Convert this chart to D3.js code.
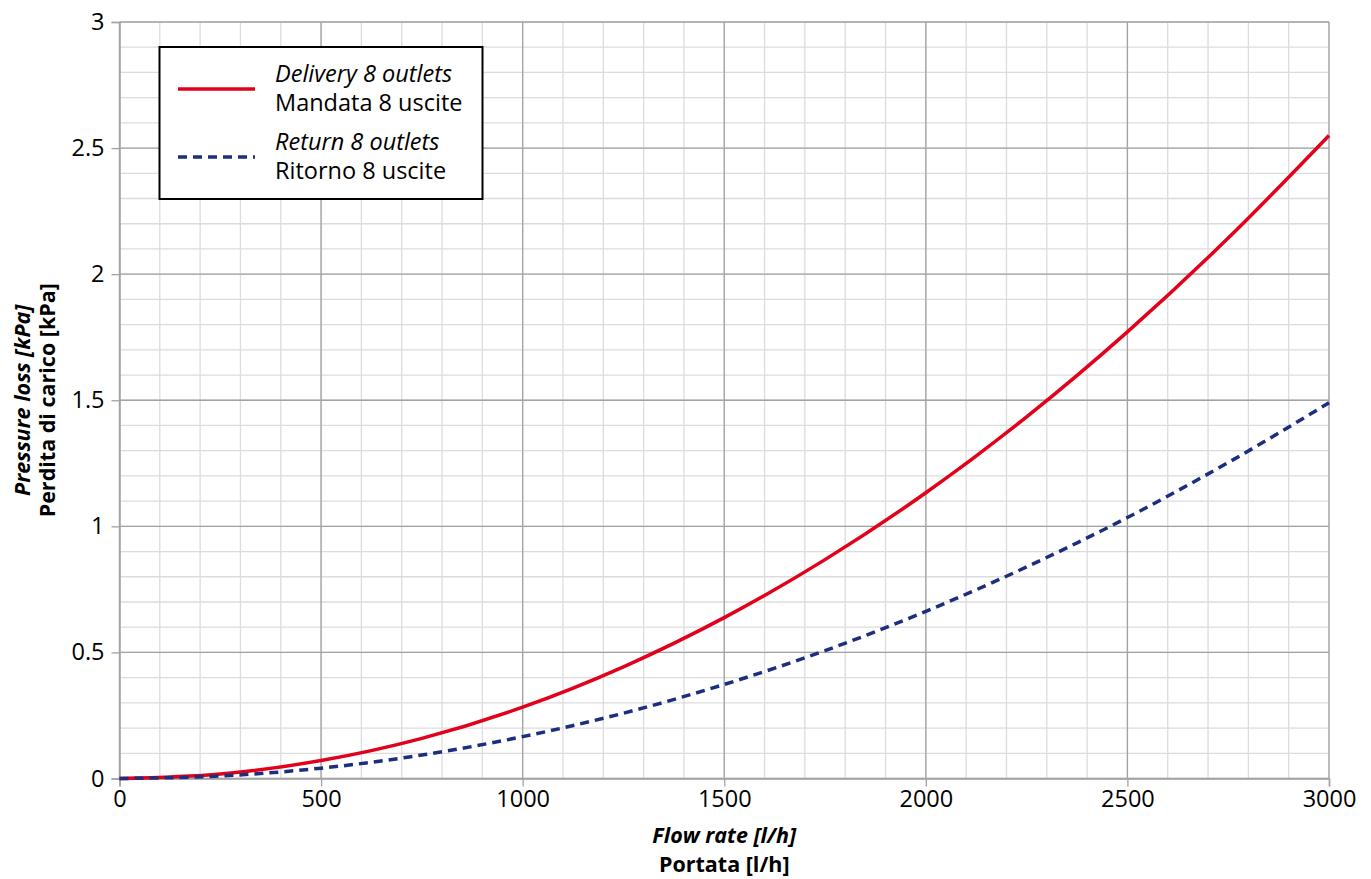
<!DOCTYPE html>
<html>
<head>
<meta charset="utf-8">
<script src="https://cdn.jsdelivr.net/npm/d3@7"></script>
<style>
  html, body { margin: 0; padding: 0; background: #fff; }
  svg { display: block; font-family: "Open Sans", "Noto Sans", sans-serif; }
</style>
</head>
<body>
<svg id="chart" width="1371" height="879"></svg>
<script>
// flow rate [l/h]
const flow = [0, 250, 500, 750, 1000, 1250, 1500, 1750, 2000, 2250, 2500, 2750, 3000];
// pressure loss [kPa]
const delivery = [0, 0.018, 0.071, 0.159, 0.283, 0.443, 0.638, 0.868, 1.133, 1.434, 1.771, 2.143, 2.55];
const ret = [0, 0.010, 0.041, 0.093, 0.166, 0.259, 0.373, 0.507, 0.663, 0.839, 1.035, 1.253, 1.49];

const xTicks = [0, 500, 1000, 1500, 2000, 2500, 3000];
const yTicks = [0, 0.5, 1, 1.5, 2, 2.5, 3];

const series = [
  { en: 'Delivery 8 outlets', it: 'Mandata 8 uscite', values: delivery, color: '#e2001a', dash: null },
  { en: 'Return 8 outlets', it: 'Ritorno 8 uscite', values: ret, color: '#1d2e7e', dash: '9,6' }
];

const FS = '23.5px';
const TS = '21.5px';
const svg = d3.select('#chart');
const m = { left: 119.5, right: 1329, top: 22, bottom: 778.5 };

const x = d3.scaleLinear().domain([0, 3000]).range([m.left, m.right]);
const y = d3.scaleLinear().domain([0, 3]).range([m.bottom, m.top]);

// minor grid
const minorX = d3.range(0, 3001, 100);
const minorY = d3.range(0, 3.001, 0.1);
const grid = svg.append('g');
grid.selectAll('.mx').data(minorX).enter().append('line')
  .attr('x1', d => x(d)).attr('x2', d => x(d))
  .attr('y1', m.top).attr('y2', m.bottom)
  .attr('stroke', '#dcdcdc').attr('stroke-width', 1.3);
grid.selectAll('.my').data(minorY).enter().append('line')
  .attr('y1', d => y(d)).attr('y2', d => y(d))
  .attr('x1', m.left).attr('x2', m.right)
  .attr('stroke', '#dcdcdc').attr('stroke-width', 1.3);

// major grid
grid.selectAll('.Mx').data(xTicks).enter().append('line')
  .attr('x1', d => x(d)).attr('x2', d => x(d))
  .attr('y1', m.top).attr('y2', m.bottom)
  .attr('stroke', '#a3a3a3').attr('stroke-width', 1.3);
grid.selectAll('.My').data(yTicks).enter().append('line')
  .attr('y1', d => y(d)).attr('y2', d => y(d))
  .attr('x1', m.left).attr('x2', m.right)
  .attr('stroke', '#a3a3a3').attr('stroke-width', 1.3);

// axes
const xAxis = svg.append('g')
  .attr('transform', `translate(0,${m.bottom})`)
  .call(d3.axisBottom(x).tickValues(xTicks).tickSize(8).tickPadding(4).tickFormat(d3.format('d')));
const yAxis = svg.append('g')
  .attr('transform', `translate(${m.left},0)`)
  .call(d3.axisLeft(y).tickValues(yTicks).tickSize(8).tickPadding(7).tickFormat(d => String(d)));
[xAxis, yAxis].forEach(a => {
  a.select('.domain').attr('stroke', '#a3a3a3').attr('stroke-width', 1.5);
  a.selectAll('.tick line').attr('stroke', '#a3a3a3').attr('stroke-width', 1.3);
  a.selectAll('.tick text').attr('fill', '#000').style('font-size', FS)
    .style('font-family', '"Open Sans", "Noto Sans", sans-serif');
});

// curves
const line = d3.line().x((d, i) => x(flow[i])).y(d => y(d)).curve(d3.curveMonotoneX);
series.forEach(s => {
  svg.append('path')
    .attr('d', line(s.values))
    .attr('fill', 'none')
    .attr('stroke', s.color)
    .attr('stroke-width', 3.5)
    .attr('stroke-dasharray', s.dash);
});

// legend
const lg = svg.append('g');
lg.append('rect').attr('x', 159.5).attr('y', 47).attr('width', 323).attr('height', 152)
  .attr('fill', '#fff').attr('stroke', '#000').attr('stroke-width', 2);
series.forEach((s, i) => {
  const cy = 89 + i * 68;
  lg.append('line').attr('x1', 178).attr('x2', 255).attr('y1', cy).attr('y2', cy)
    .attr('stroke', s.color).attr('stroke-width', 3.5).attr('stroke-dasharray', s.dash);
  lg.append('text').attr('x', 275).attr('y', cy - 7).text(s.en)
    .style('font-size', FS).style('font-style', 'italic');
  lg.append('text').attr('x', 275).attr('y', cy + 22).text(s.it)
    .style('font-size', FS);
});

// axis titles
svg.append('text').attr('x', (m.left + m.right) / 2).attr('y', 843)
  .attr('text-anchor', 'middle').style('font-size', TS)
  .style('font-weight', 'bold').style('font-style', 'italic').text('Flow rate [l/h]');
svg.append('text').attr('x', (m.left + m.right) / 2).attr('y', 872)
  .attr('text-anchor', 'middle').style('font-size', TS)
  .style('font-weight', 'bold').text('Portata [l/h]');

const yt = svg.append('g').attr('transform', `translate(0,${(m.top + m.bottom) / 2}) rotate(-90)`);
yt.append('text').attr('x', 0).attr('y', 30).attr('text-anchor', 'middle')
  .style('font-size', TS).style('font-weight', 'bold').style('font-style', 'italic')
  .text('Pressure loss [kPa]');
yt.append('text').attr('x', 0).attr('y', 55).attr('text-anchor', 'middle')
  .style('font-size', TS).style('font-weight', 'bold')
  .text('Perdita di carico [kPa]');
</script>
</body>
</html>
